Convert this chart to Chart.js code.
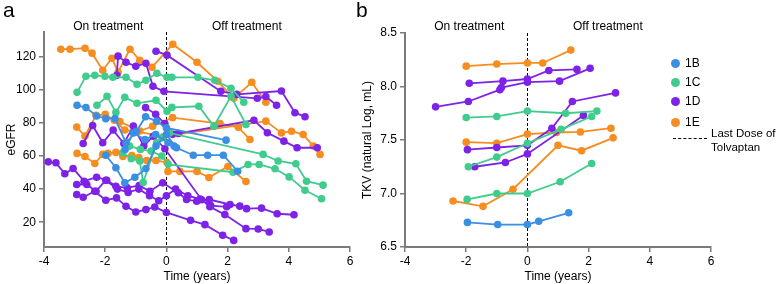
<!DOCTYPE html>
<html>
<head>
<meta charset="utf-8">
<script src="https://cdn.jsdelivr.net/npm/chart.js@4/dist/chart.umd.min.js"></script>
<style>
  body { margin: 0; background: #fff; font-family: "Liberation Sans", Arial, sans-serif; }
  #page { position: relative; width: 778px; height: 284px; overflow: hidden; }
  #ca { position: absolute; left: 0; top: 0; }
  #cb { position: absolute; left: 360px; top: 0; }
  .panel { position: absolute; font-size: 21px; line-height: 21px; color: #000; }
  .leg { position: absolute; font-size: 12px; line-height: 14px; color: #000; white-space: nowrap; }
  .note { position: absolute; font-size: 11.5px; line-height: 14px; color: #000; white-space: nowrap; }
  .dot { position: absolute; width: 9px; height: 9px; border-radius: 50%; }
  .dash { position: absolute; width: 34px; border-top: 1px dashed #000; }
</style>
</head>
<body>
<div id="page">
  <canvas id="ca" width="370" height="284"></canvas>
  <canvas id="cb" width="418" height="284"></canvas>
  <div class="panel" style="left:3px;top:-1px">a</div>
  <div class="panel" style="left:356px;top:-1px">b</div>
  <div id="legend"></div>
</div>
<script>
// colours per group
const groups = ['1B', '1C', '1D', '1E'];
const groupColors = { '1B': '#3a8fe2', '1C': '#40cc8c', '1D': '#7d22e6', '1E': '#f78c1f' };

// panel a: eGFR, one array of [years, eGFR] per patient
const eGFR_1B = [
  [[-2.92,90.7],[-2.63,89.3],[-2.28,84.2],[-1.98,82.6],[-1.68,82.6],[-1.32,68],[-0.98,75],[-0.68,83.8],[-0.32,81],[0,77],[1.95,69.6]],
  [[-1.98,60.5],[-1.65,52.9],[-1.36,43.8],[-1.03,47.2],[-0.67,52.4],[-0.34,66],[0,73],[0.33,65],[0.88,60.5],[1.35,60.5],[1.86,60.5],[2.33,50.8]],
  [[-1.35,64],[-1.08,74],[-0.7,70],[-0.35,73],[0.05,68],[0.25,66]]
];
const eGFR_1C = [
  [[-2.92,98.5],[-2.63,108.2],[-2.34,108.8],[-2.01,108.2],[-1.75,107.6],[-1.32,107.6],[-0.96,103.4],[-0.67,105.8],[-0.31,110.1],[0.02,107.6],[0.18,107.6],[1.03,107.6],[1.58,105.8],[2.11,101],[2.53,92.5]],
  [[-2.27,90.7],[-1.94,96.1],[-1.65,86.4],[-1.36,95.5],[-0.96,91.9],[-0.34,93.7],[0.02,87.1],[0.18,89.4],[1.06,90.1],[1.55,78],[2.11,96.1],[2.6,79.1]],
  [[-1.43,62],[-1.15,58.4],[-0.87,57],[-0.76,44],[-0.32,68],[-0.15,71],[0.1,74],[3.16,61],[3.65,57],[4.23,55.3],[4.58,44.8],[5.12,42.4]],
  [[-1.2,66],[-0.85,64],[-0.5,63],[-0.15,60],[0.06,55],[2.18,50.2],[2.67,54.9],[3.03,54.9],[3.55,52.3],[4.01,47.4],[4.53,39.3],[5.07,34.2]]
];
const eGFR_1D = [
  [[-1.62,108.8],[-1.58,120.4],[-1.32,116.7],[-1.0,114.3],[-0.67,116.1],[-0.44,102.2],[-0.08,99.1],[2.97,94.9],[3.25,96],[3.6,90.7]],
  [[-0.34,123.4],[0.02,121],[1.78,99.1],[2.3,97.3],[3.76,99.3],[4.2,86.2],[4.53,83.8]],
  [[-3.86,56.5],[-3.61,55.9],[-3.32,49.3],[-3.05,52.5],[-2.69,44.8],[-2.28,47.2],[-1.95,45.4],[-1.65,41.7],[-1.28,40.8],[-0.89,42.2],[-0.54,38.7],[-0.12,43.8],[0.39,37.8],[0.66,33.7],[0.99,32.7],[1.4,33.7],[2.08,30.7],[2.4,29.7],[2.62,28.2],[3.11,28.5],[3.62,25.1],[4.17,24.5]],
  [[-2.93,42.8],[-2.6,42.8],[-2.3,38.7],[-1.98,45.4],[-1.6,40],[-1.25,38],[-0.9,40],[-0.55,36],[-0.25,33],[0,36],[0.3,40],[0.7,36],[1.1,34],[1.45,30],[1.97,29.3]],
  [[-2.93,36.7],[-2.72,35.1],[-2.34,38.7],[-1.98,33.3],[-1.63,34.7],[-1.32,29.6],[-1.0,26.2],[-0.67,27.6],[-0.38,29.2],[0,25.9],[0.79,21.1],[1.26,18.5],[1.84,12.1],[2.2,9.0]],
  [[-2.72,67.6],[-2.41,78.5],[-2.08,68],[-1.74,75.7],[-1.39,67.6],[-1.08,78.1],[-0.74,66],[-0.43,72],[-0.05,64.4],[1.15,33.6],[1.42,29.3],[1.91,24.6],[2.6,16.1],[3.0,15.9],[3.36,14.1]],
  [[-0.68,89.3],[-0.35,85.2],[-0.05,79.6],[0.05,74.7],[0.2,73.1],[0.39,73.7],[2.86,81.6],[3.3,74.1],[3.84,69],[4.27,65],[4.93,65]]
];
const eGFR_1E = [
  [[-3.45,124.6],[-3.15,124.6],[-2.66,125.2],[-2.43,122.2],[-2.08,111.9],[-1.78,119.1],[-1.58,110.7],[-1.19,124.6],[-0.87,117.9],[-0.47,113.7],[0.21,127.6],[1.0,116.7],[1.68,105.2],[2.2,94.9],[2.79,104.6],[3.25,92.5]],
  [[-1.52,80.8],[-0.87,75.1],[-0.45,78],[0.2,83.2],[1.75,79.6],[2.35,77.4],[2.73,70]],
  [[-2.93,77.5],[-2.66,72.1],[-2.3,84.6],[-2.0,85.2],[-1.7,81.6],[-1.36,75.7],[-1.03,75.1],[-0.1,71.7],[3.25,81.1],[3.76,74],[4.09,75],[4.47,73],[4.8,66],[5.02,61]],
  [[-2.92,61.6],[-2.66,59.7],[-2.34,55.5],[-2.08,61],[-1.91,61.6],[-1.65,62.2],[-1.42,59.7],[-1.13,60.3],[-0.9,59.1],[-0.64,57.3],[-0.34,57.3],[0.02,56.1],[0.05,50.7],[0.44,50.7],[1.0,50.7],[1.39,47],[2.01,53.7],[2.6,44.6]]
];

// panel b: TKV (natural log, mL)
const tkv_1B = [
  [[-1.96,6.73],[-0.97,6.71],[0,6.71],[0.37,6.74],[1.35,6.82]]
];
const tkv_1C = [
  [[-2,7.71],[-1,7.72],[0,7.77],[1.25,7.75],[2.27,7.77]],
  [[-1.93,7.25],[-1,7.34],[0,7.47],[1.1,7.6],[2.1,7.72]],
  [[-1.97,6.945],[-1,7.0],[0,7.0],[1.07,7.11],[2.1,7.28]]
];
const tkv_1D = [
  [[-1.9,8.03],[-0.8,8.05],[0,8.07],[0.7,8.15],[1.62,8.16]],
  [[-3.0,7.81],[-1.93,7.86],[-0.9,7.97],[-0.85,7.99],[0,8.04],[1.05,8.05],[2.05,8.17]],
  [[-1.96,7.41],[-1.0,7.43],[0,7.45],[0.8,7.61],[1.47,7.86],[2.88,7.94]],
  [[-1.72,7.25],[-0.72,7.29],[0,7.37],[1.83,7.73]]
];
const tkv_1E = [
  [[-2,8.19],[-1,8.21],[0,8.22],[0.5,8.22],[1.42,8.34]],
  [[-2,7.48],[-1,7.47],[0,7.555],[0.95,7.57],[1.73,7.575],[2.73,7.61]],
  [[-2.43,6.93],[-1.45,6.88],[-0.47,7.04],[1.0,7.45],[1.77,7.4],[2.8,7.52]]
];

const xTicks = [-4, -2, 0, 2, 4, 6];
const eGFRTicks = [20, 40, 60, 80, 100, 120];
const tkvTicks = [6.5, 7.0, 7.5, 8.0, 8.5];

Chart.defaults.font.family = "'Liberation Sans', Arial, sans-serif";
Chart.defaults.font.size = 12;
Chart.defaults.color = '#000';

function makeDatasets(byGroup) {
  const out = [];
  groups.forEach(g => {
    byGroup[g].forEach(line => {
      out.push({
        label: g,
        data: line.map(([x, y]) => ({ x, y })),
        showLine: true,
        borderColor: groupColors[g],
        backgroundColor: groupColors[g],
        borderWidth: 1.8,
        pointRadius: 3.8,
        pointBorderWidth: 0,
        pointHoverRadius: 3.8
      });
    });
  });
  return out;
}

// dashed line at time 0 plus the on/off treatment captions
const treatmentMarks = {
  id: 'treatmentMarks',
  beforeDatasetsDraw(chart) {
    const { ctx, chartArea, scales } = chart;
    const x0 = Math.round(scales.x.getPixelForValue(0)) + 0.5;
    ctx.save();
    ctx.strokeStyle = '#000';
    ctx.lineWidth = 1;
    ctx.setLineDash([3, 2]);
    ctx.beginPath();
    ctx.moveTo(x0, chartArea.top);
    ctx.lineTo(x0, chartArea.bottom);
    ctx.stroke();
    ctx.restore();
  },
  afterDraw(chart) {
    const { ctx, scales } = chart;
    ctx.save();
    ctx.font = "12px 'Liberation Sans', Arial, sans-serif";
    ctx.fillStyle = '#000';
    ctx.textAlign = 'center';
    ctx.textBaseline = 'middle';
    ctx.fillText('On treatment', scales.x.getPixelForValue(-1.9), 27);
    ctx.fillText('Off treatment', scales.x.getPixelForValue(2.63), 27);
    ctx.restore();
  }
};

function makeChart(canvasId, datasets, opts) {
  const axisGrey = '#7b7b7b';
  return new Chart(document.getElementById(canvasId), {
    type: 'scatter',
    data: { datasets },
    options: {
      responsive: false,
      animation: false,
      layout: { padding: { left: 0, right: opts.padRight, top: opts.padTop, bottom: 0 } },
      plugins: { legend: { display: false }, tooltip: { enabled: false } },
      scales: {
        x: {
          type: 'linear',
          min: -4,
          max: 6,
          afterBuildTicks: s => { s.ticks = xTicks.map(v => ({ value: v })); },
          afterFit: s => { s.height = 37; s.paddingLeft = 0; s.paddingRight = 0; },
          ticks: { padding: 2, font: { size: 12 } },
          grid: { drawOnChartArea: false, drawTicks: true, tickLength: 5, color: axisGrey, lineWidth: 1.5 },
          border: { display: true, color: axisGrey, width: 2 },
          title: { display: true, text: 'Time (years)', font: { size: 12 }, padding: { top: 0, bottom: 0 } }
        },
        y: {
          type: 'linear',
          min: opts.yMin,
          max: opts.yMax,
          afterBuildTicks: s => { s.ticks = opts.yTicks.map(v => ({ value: v })); },
          afterFit: s => { s.width = opts.yWidth; s.paddingTop = 0; s.paddingBottom = 0; },
          ticks: { padding: 3, font: { size: 12 }, callback: opts.yFormat },
          grid: { drawOnChartArea: false, drawTicks: true, tickLength: 5, color: axisGrey, lineWidth: 1.5 },
          border: { display: true, color: axisGrey, width: 2 },
          title: { display: true, text: opts.yTitle, font: { size: 12 }, padding: { top: opts.titlePad, bottom: 0 } }
        }
      }
    },
    plugins: [treatmentMarks]
  });
}

makeChart('ca', makeDatasets({ '1B': eGFR_1B, '1C': eGFR_1C, '1D': eGFR_1D, '1E': eGFR_1E }), {
  padRight: 20, padTop: 32, yWidth: 44, yMin: 5, yMax: 135, yTicks: eGFRTicks,
  yTitle: 'eGFR', titlePad: 4, yFormat: v => v
});

makeChart('cb', makeDatasets({ '1B': tkv_1B, '1C': tkv_1C, '1D': tkv_1D, '1E': tkv_1E }), {
  padRight: 67, padTop: 33, yWidth: 45, yMin: 6.5, yMax: 8.5, yTicks: tkvTicks,
  yTitle: 'TKV (natural Log, mL)', titlePad: 0, yFormat: v => v.toFixed(1)
});

// legend for panel b
const legend = document.getElementById('legend');
const legendTop = [63, 82, 101, 122];
groups.forEach((g, i) => {
  const dot = document.createElement('div');
  dot.className = 'dot';
  dot.style.left = '671px';
  dot.style.top = (legendTop[i] - 4.5) + 'px';
  dot.style.background = groupColors[g];
  legend.appendChild(dot);
  const t = document.createElement('div');
  t.className = 'leg';
  t.style.left = '685px';
  t.style.top = (legendTop[i] - 7) + 'px';
  t.textContent = g;
  legend.appendChild(t);
});
const dash = document.createElement('div');
dash.className = 'dash';
dash.style.left = '673px';
dash.style.top = '138px';
legend.appendChild(dash);
const last = document.createElement('div');
last.className = 'note';
last.style.left = '711px';
last.style.top = '126px';
last.innerHTML = 'Last Dose of<br>Tolvaptan';
legend.appendChild(last);
</script>
</body>
</html>
